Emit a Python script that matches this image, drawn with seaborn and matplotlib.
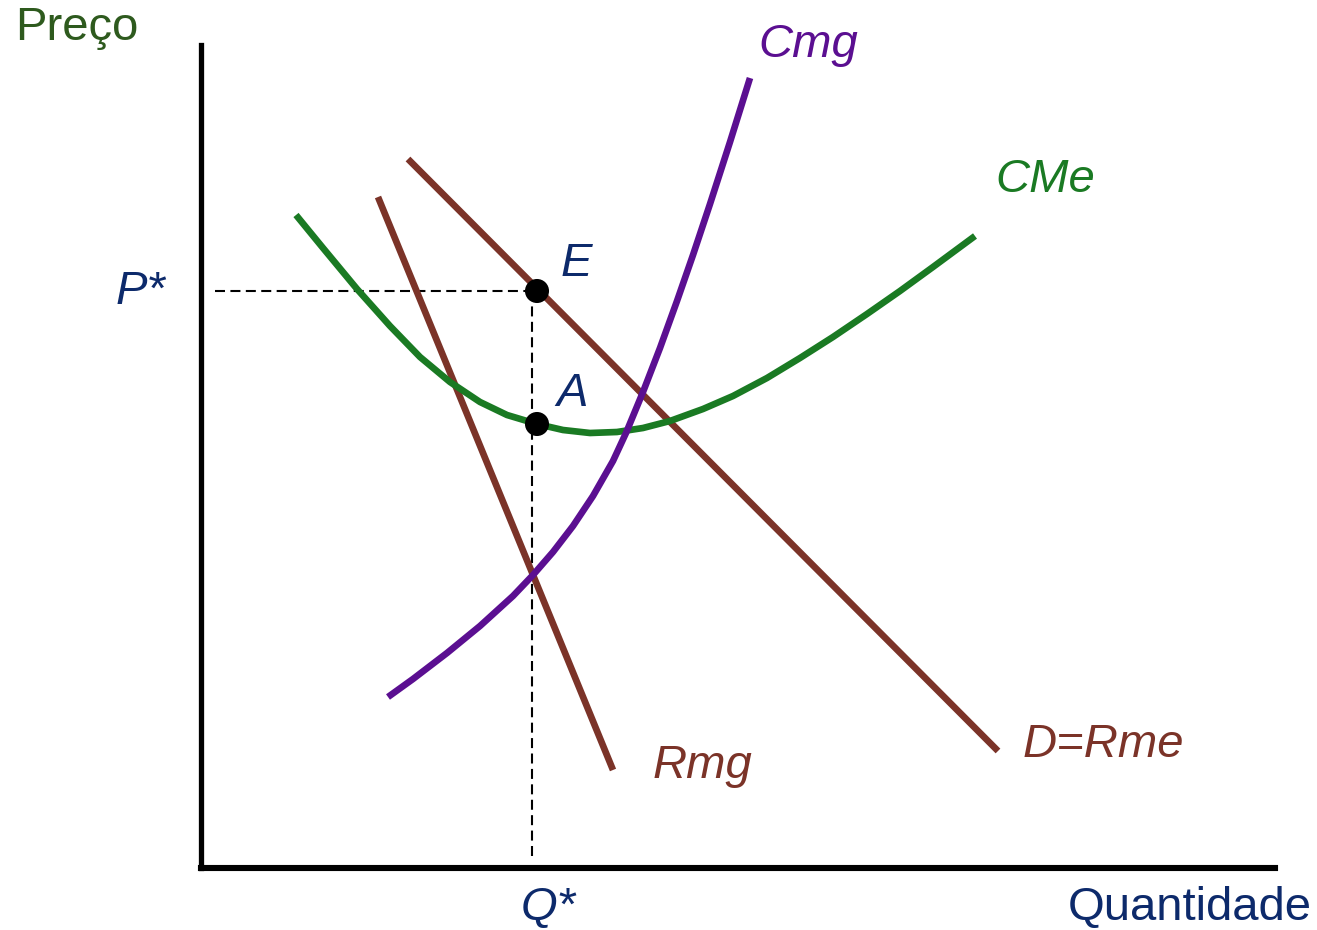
import matplotlib
matplotlib.use("Agg")
import matplotlib.pyplot as plt
import seaborn as sns

sns.set_theme(style="white")
plt.rcParams['font.family'] = ['Liberation Sans', 'DejaVu Sans']

# ---- data (quantity, price) ----
cmg_q = [187, 212, 246, 279, 312, 332, 352, 372, 392, 412, 425, 442, 459, 476, 492, 509, 529, 549]
cmg_p = [171, 189, 215, 242, 272, 293, 316, 342, 372, 407, 435, 476, 520, 567, 613, 664, 726, 790]

cme_q = [95, 122, 156, 189, 219, 249, 279, 306, 336, 362, 389, 416, 442, 469, 502, 532,
         566, 599, 632, 666, 699, 732, 774]
cme_p = [653, 620, 579, 542, 511, 486, 466, 453, 444, 438, 435, 436, 440, 447, 459, 472,
         490, 510, 531, 554, 577, 601, 632]

rmg_q = [177, 412]
rmg_p = [671, 98]

d_q = [207, 797]
d_p = [709, 117]

q_star = 331
p_star = 577
point_q = [336, 336]
point_p = [577, 444]
point_names = ["E", "A"]

PURPLE = "#5B0F91"
GREEN = "#1A7A23"
BROWN = "#7B3328"
NAVY = "#0D2A6B"
DKGREEN = "#2E5A1E"

fig = plt.figure(figsize=(13.17, 9.30), dpi=100)
ax = fig.add_axes([0, 0, 1, 1])
ax.set_xlim(-201, 1116)
ax.set_ylim(-62, 868)

lw = 4.8
kw = dict(lw=lw, sort=False, solid_capstyle='butt', solid_joinstyle='round')
sns.lineplot(x=rmg_q, y=rmg_p, ax=ax, color=BROWN, **kw)
sns.lineplot(x=d_q, y=d_p, ax=ax, color=BROWN, **kw)
sns.lineplot(x=cme_q, y=cme_p, ax=ax, color=GREEN, **kw)
sns.lineplot(x=cmg_q, y=cmg_p, ax=ax, color=PURPLE, **kw)

# dashed guides
dash = (0, (4.8, 2.6))
ax.plot([14, point_q[0]], [p_star, p_star], color="black", lw=1.5, ls=dash, zorder=1)
ax.plot([q_star, q_star], [p_star, 8], color="black", lw=1.5, ls=dash, zorder=1)

sns.scatterplot(x=point_q, y=point_p, ax=ax, color="black", s=300, edgecolor="none", zorder=5)

# axes
for s in ["top", "right"]:
    ax.spines[s].set_visible(False)
ax.spines["left"].set_position(("data", 0))
ax.spines["bottom"].set_position(("data", 0))
ax.spines["left"].set_bounds(0, 823)
ax.spines["bottom"].set_bounds(0, 1074)
ax.spines["left"].set_linewidth(3.8)
ax.spines["bottom"].set_linewidth(4.4)
ax.spines["left"].set_color("black")
ax.spines["bottom"].set_color("black")
ax.set_xticks([])
ax.set_yticks([])
ax.set_xlabel("")
ax.set_ylabel("")
ax.patch.set_alpha(0)

fs = 34
ax.text(-186, 840, "Preço", color=DKGREEN, fontsize=fs, ha="left", va="center")
ax.text(989, -40, "Quantidade", color=NAVY, fontsize=fs, ha="center", va="center")
ax.text(607, 823, "Cmg", color=PURPLE, fontsize=fs, style="italic", ha="center", va="center")
ax.text(844, 688, "CMe", color=GREEN, fontsize=fs, style="italic", ha="center", va="center")
ax.text(501, 102, "Rmg", color=BROWN, fontsize=fs, style="italic", ha="center", va="center")
ax.text(902, 123, "D=Rme", color=BROWN, fontsize=fs, style="italic", ha="center", va="center")
ax.text(375, 604, point_names[0], color=NAVY, fontsize=fs, style="italic", ha="center", va="center")
ax.text(371, 474, point_names[1], color=NAVY, fontsize=fs, style="italic", ha="center", va="center")
ax.text(-61, 576, "P*", color=NAVY, fontsize=fs, style="italic", ha="center", va="center")
ax.text(347, -40, "Q*", color=NAVY, fontsize=fs, style="italic", ha="center", va="center")

fig.savefig("out.png", dpi=100)
